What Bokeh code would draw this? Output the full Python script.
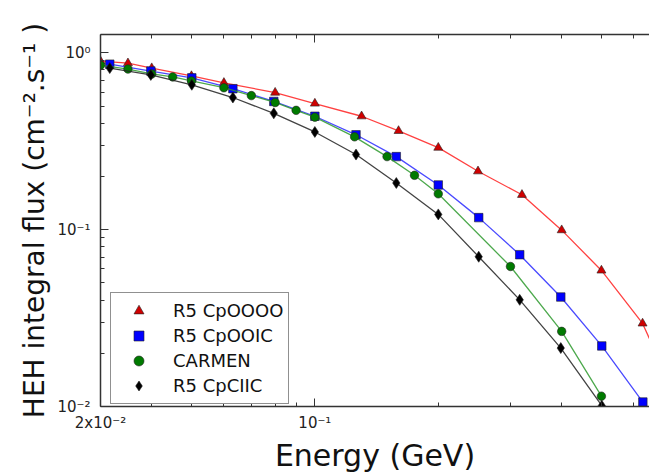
from bokeh.plotting import figure
from bokeh.models import (Legend, LegendItem, LogAxis, FixedTicker, Range1d)
from bokeh.embed import file_html
from bokeh.resources import INLINE

# ---- data ----
red_x = [0.03, 0.035, 0.04, 0.05, 0.06, 0.08, 0.1, 0.13, 0.16, 0.2, 0.25, 0.32, 0.4, 0.5, 0.63, 0.79]
red_y = [0.897, 0.874, 0.820, 0.740, 0.677, 0.596, 0.517, 0.438, 0.362, 0.291, 0.214, 0.1575, 0.0994, 0.0588, 0.0295, 0.0093]

blue_x = [0.0316, 0.0398, 0.0501, 0.0631, 0.0794, 0.1, 0.126, 0.158, 0.2, 0.251, 0.316, 0.398, 0.501, 0.631]
blue_y = [0.863, 0.789, 0.722, 0.627, 0.531, 0.438, 0.344, 0.259, 0.179, 0.117, 0.0722, 0.0416, 0.0220, 0.0106]

green_x = [0.03, 0.035, 0.04, 0.045, 0.05, 0.06, 0.07, 0.08, 0.09, 0.1, 0.125, 0.15, 0.175, 0.2, 0.3, 0.4, 0.5]
green_y = [0.852, 0.810, 0.760, 0.731, 0.694, 0.635, 0.573, 0.524, 0.473, 0.433, 0.335, 0.259, 0.203, 0.1595, 0.0619, 0.0266, 0.01144]

black_x = [0.0316, 0.0398, 0.0501, 0.0631, 0.0794, 0.1, 0.126, 0.158, 0.2, 0.251, 0.316, 0.398, 0.501]
black_y = [0.820, 0.750, 0.660, 0.559, 0.455, 0.357, 0.266, 0.1836, 0.122, 0.0703, 0.0401, 0.0214, 0.0101]

series_names = ["R5 CpOOOO", "R5 CpOOIC", "CARMEN", "R5 CpCIIC"]

x_major = [0.03, 0.1]
x_major_labels = {0.03: "2x10\u207b\u00b2", 0.1: "10\u207b\u00b9"}
x_minor = [0.04, 0.05, 0.06, 0.07, 0.08, 0.09, 0.2, 0.3, 0.4, 0.5, 0.6]
y_major = [0.01, 0.1, 1.0]
y_major_labels = {0.01: "10\u207b\u00b2", 0.1: "10\u207b\u00b9", 1.0: "10\u2070"}
y_minor = [0.02, 0.03, 0.04, 0.05, 0.06, 0.07, 0.08, 0.09,
           0.2, 0.3, 0.4, 0.5, 0.6, 0.7, 0.8, 0.9]

FONT = "DejaVu Sans"

p = figure(width=649, height=475, x_axis_type="log", y_axis_type="log",
           x_range=Range1d(0.03, 0.655), y_range=Range1d(0.01, 1.27),
           output_backend="svg", toolbar_location=None,
           min_border_left=100, min_border_right=0,
           min_border_top=34, min_border_bottom=63)
p.grid.visible = False
p.outline_line_color = None
p.background_fill_color = "white"
p.border_fill_color = "white"

xt = FixedTicker(ticks=x_major, minor_ticks=x_minor)
yt = FixedTicker(ticks=y_major, minor_ticks=y_minor)


def style_axis(ax):
    ax.axis_line_color = "#333333"
    ax.axis_line_width = 1.5
    ax.major_tick_line_color = "#333333"
    ax.minor_tick_line_color = "#333333"
    ax.major_tick_in = 8
    ax.major_tick_out = 0
    ax.minor_tick_in = 4
    ax.minor_tick_out = 0
    ax.major_label_text_font = FONT
    ax.major_label_text_font_size = "15px"
    ax.major_label_text_color = "#222222"
    ax.axis_label_text_font = FONT
    ax.axis_label_text_font_style = "normal"
    ax.axis_label_text_color = "#111111"


xa = p.xaxis[0]
xa.ticker = xt
xa.major_label_overrides = x_major_labels
xa.axis_label = "Energy (GeV)"
style_axis(xa)
xa.axis_label_text_font_size = "30px"
xa.major_label_standoff = 7
xa.axis_label_standoff = 3

ya = p.yaxis[0]
ya.ticker = yt
ya.major_label_overrides = y_major_labels
ya.axis_label = "HEH integral flux (cm\u207b\u00b2.s\u207b\u00b9 )"
style_axis(ya)
ya.axis_label_text_font_size = "28px"
ya.major_label_standoff = 10
ya.axis_label_standoff = 3

top = LogAxis(ticker=xt)
style_axis(top)
top.major_label_text_font_size = "10px"
top.major_label_text_color = None
top.major_label_standoff = 0
p.add_layout(top, "above")

specs = [
    (red_x, red_y, "triangle", "#ff2020", "#d00000", 9),
    (blue_x, blue_y, "square", "#2a2aff", "#0000ff", 8.5),
    (green_x, green_y, "circle", "#2e9a2e", "#007a00", 8.5),
    (black_x, black_y, "diamond", "#222222", "#000000", 11),
]

items = []
for (xs, ys, marker, lc, fc, sz), name in zip(specs, series_names):
    p.line(xs, ys, line_color=lc, line_width=1.3, line_alpha=0.85)
    r = p.scatter(xs, ys, marker=marker, size=sz, fill_color=fc,
                  line_color="#222222", line_width=0.6)
    items.append(LegendItem(label=name, renderers=[r]))

legend = Legend(items=items, location=(10, 2), margin=0,
                label_text_font=FONT, label_text_font_size="18px",
                label_text_color="#111111",
                label_height=25, glyph_height=25, glyph_width=45,
                padding=5, spacing=0, label_standoff=12,
                border_line_color="#222222", border_line_width=1,
                background_fill_color="white", background_fill_alpha=1)
p.add_layout(legend)

open("out.html", "w").write(file_html(p, INLINE))
